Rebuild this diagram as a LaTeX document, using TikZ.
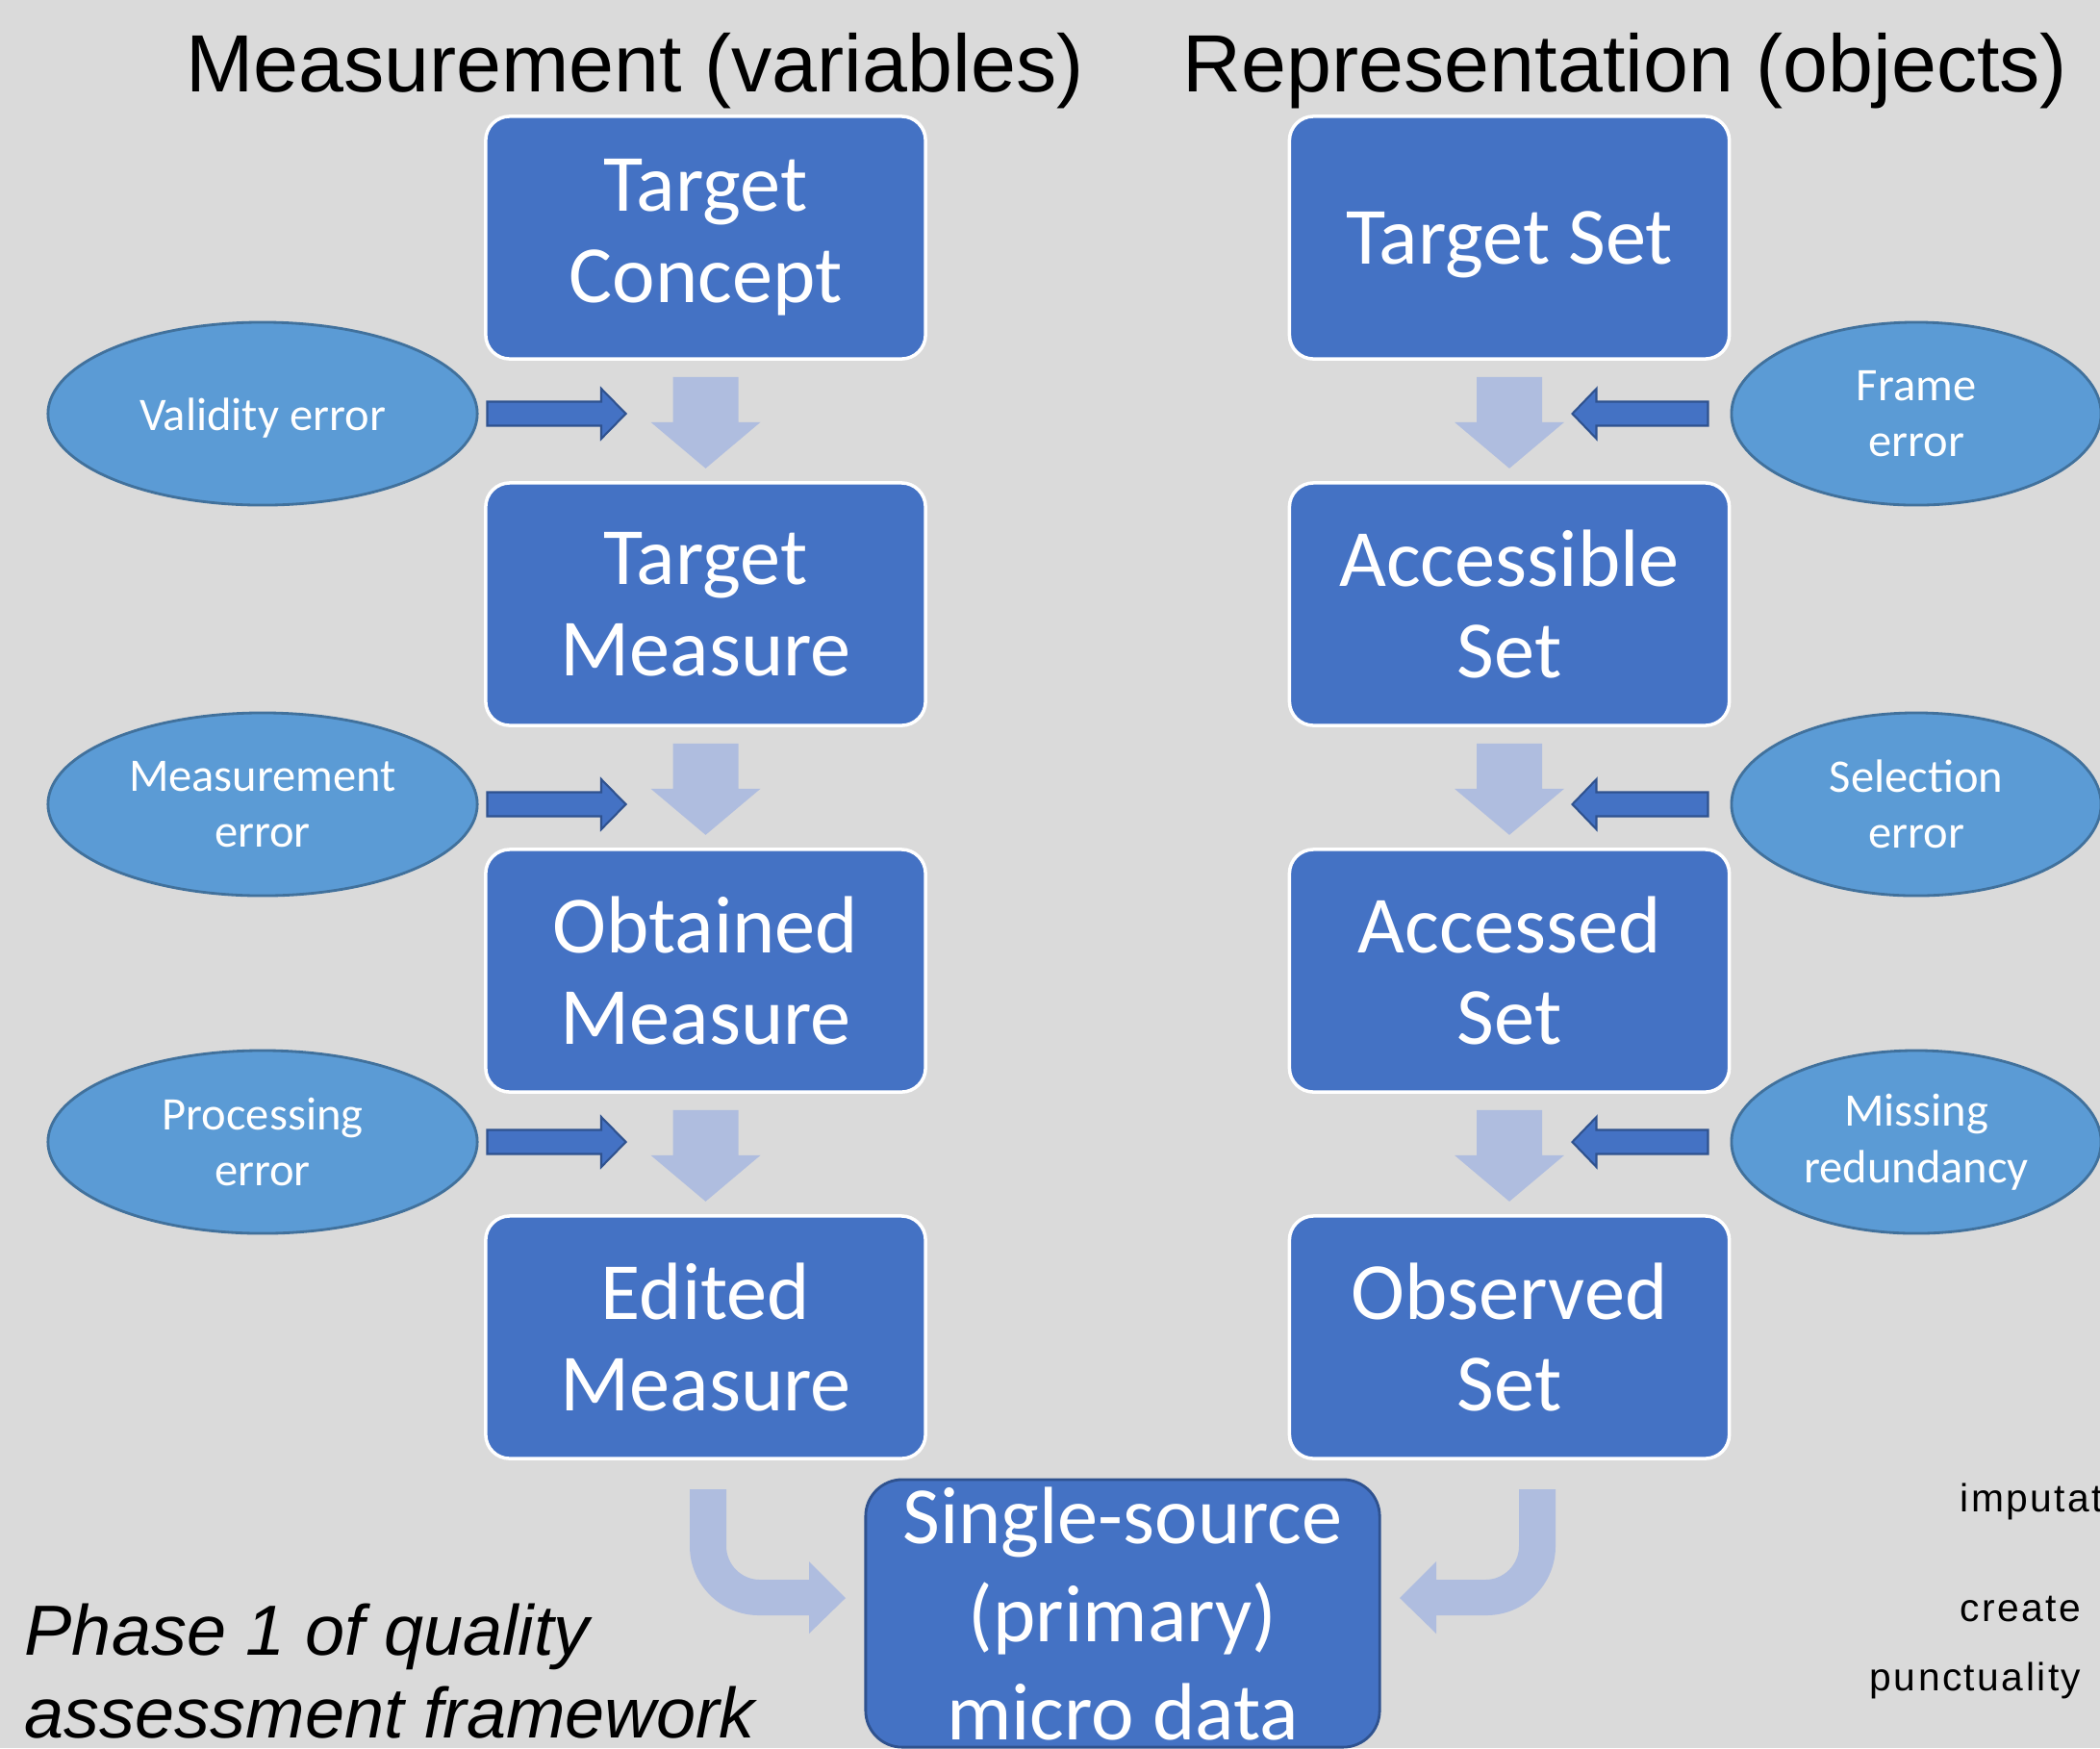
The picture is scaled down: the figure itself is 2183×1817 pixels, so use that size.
\documentclass[tikz,border=0pt]{standalone}
\usepackage{fontspec}
\setmainfont{Carlito}
\newfontfamily\arialfont{Liberation Sans}
\newfontfamily\spacedfont[LetterSpace=6]{Liberation Sans}
\usetikzlibrary{shapes.geometric,calc}

\definecolor{bgcol}{RGB}{218,218,218}
\definecolor{boxblue}{RGB}{68,114,196}
\definecolor{boxedge}{RGB}{47,82,143}
\definecolor{ovalfill}{RGB}{91,155,213}
\definecolor{ovaledge}{RGB}{65,113,156}
\definecolor{flowcol}{RGB}{175,189,223}

\tikzset{
  stagebox/.style={rectangle, rounded corners=0.25cm, fill=boxblue, draw=white,
    line width=1pt, minimum width=4.57cm, minimum height=2.52cm, inner sep=0pt,
    align=center, text=white, font={\fontsize{24}{26.9}\selectfont},
    execute at begin node={\rule{0pt}{19.5pt}}},
  resultbox/.style={rectangle, rounded corners=0.38cm, fill=boxblue, draw=boxedge,
    line width=0.8pt, minimum width=5.34cm, minimum height=2.78cm, inner sep=0pt,
    align=center, text=white, font={\fontsize{24}{29}\selectfont}},
  erroroval/.style={ellipse, fill=ovalfill, draw=ovaledge, line width=0.8pt,
    minimum height=1.90cm, inner sep=0pt, align=center, text=white,
    font={\fontsize{13.8}{16.6}\selectfont},
    execute at begin node={\rule{0pt}{12pt}}},
  leftoval/.style={erroroval, minimum width=4.46cm},
  rightoval/.style={erroroval, minimum width=3.84cm},
  headtitle/.style={anchor=base, inner sep=0pt, font={\arialfont\fontsize{24}{28}\selectfont}},
  sidenote/.style={anchor=base west, inner sep=0pt, font={\spacedfont\fontsize{11.6}{14}\selectfont}},
  errarrow/.style={fill=boxblue, draw=boxedge, line width=0.6pt, line join=miter},
  flowarrow/.style={fill=flowcol},
}

\begin{document}
\begin{tikzpicture}[x=0.01cm,y=-0.01cm]
  \fill[bgcol] (0,0) rectangle (2183,1817);
  \useasboundingbox (0,0) rectangle (2183,1817);

  % column headings
  \node[headtitle] (meas) at (660,95) {Measurement (variables)};
  \node[headtitle] (repr) at (1689.5,95) {Representation (objects)};

  % measurement column
  \node[stagebox] (tc) at (733.5,247)  {Target\\Concept};
  \node[stagebox] (tm) at (733.5,628)  {Target\\Measure};
  \node[stagebox] (om) at (733.5,1009) {Obtained\\Measure};
  \node[stagebox] (em) at (733.5,1390) {Edited\\Measure};

  % representation column
  \node[stagebox] (ts) at (1569,247)  {Target Set};
  \node[stagebox] (as) at (1569,628)  {Accessible\\Set};
  \node[stagebox] (ad) at (1569,1009) {Accessed\\Set};
  \node[stagebox] (os) at (1569,1390) {Observed\\Set};

  % error sources
  \node[leftoval] (ve) at (273,430)  {Validity error};
  \node[leftoval] (me) at (273,836)  {Measurement\\error};
  \node[leftoval] (pe) at (273,1187) {Processing\\error};
  \node[rightoval] (fe) at (1992,430)  {Frame\\error};
  \node[rightoval] (se) at (1992,836)  {Selection\\error};
  \node[rightoval] (mr) at (1992,1187) {Missing\\redundancy};

  % combined output
  \node[resultbox] (ss) at (1167,1677) {Single-source\\(primary)\\micro data};

  % downward flow arrows between stages
  \foreach \n in {tc,tm,om,ts,as,ad}{
    \fill[flowarrow] ($(\n.south)+(-34,17)$) -- ++(68,0) -- ++(0,47) -- ++(23,0)
      -- ++(-57,48) -- ++(-57,-48) -- ++(23,0) -- cycle;
  }

  % error arrows, left side (pointing right)
  \foreach \n in {ve,me,pe}{
    \draw[errarrow] ($(\n.east)+(9,-12.5)$) -- ++(118.5,0) -- ++(0,-13.5) -- ++(25.5,26)
      -- ++(-25.5,26) -- ++(0,-13.5) -- ++(-118.5,0) -- cycle;
  }
  % error arrows, right side (pointing left)
  \foreach \n in {fe,se,mr}{
    \draw[errarrow] ($(\n.west)+(-23,-12.5)$) -- ++(-116,0) -- ++(0,-13.5) -- ++(-25,26)
      -- ++(25,26) -- ++(0,-13.5) -- ++(116,0) -- cycle;
  }

  % bent arrows into the combined output
  \fill[flowarrow] (717,1548) -- (755,1548) -- (755,1607)
    .. controls (755,1626.3) and (770.7,1642) .. (790,1642)
    -- (841,1642) -- (841,1623) -- (879,1661) -- (841,1698) -- (841,1679) -- (789,1679)
    .. controls (749.2,1679) and (717,1646.8) .. (717,1607) -- cycle;
  \fill[flowarrow] (1617,1548) -- (1579,1548) -- (1579,1607)
    .. controls (1579,1626.3) and (1563.3,1642) .. (1544,1642)
    -- (1493,1642) -- (1493,1623) -- (1455,1661) -- (1493,1698) -- (1493,1679) -- (1545,1679)
    .. controls (1584.8,1679) and (1617,1646.8) .. (1617,1607) -- cycle;

  % caption
  \node[anchor=north west, inner sep=0pt, align=left,
        font={\arialfont\itshape\fontsize{21}{24.5}\selectfont}] (phase) at (25,1666)
        {Phase 1 of quality\\assessment framework};

  % side notes
  \node[sidenote] (imp) at (2037,1571) {imputat};
  \node[sidenote] (cre) at (2037,1685) {create};
  \node[sidenote] (pun) at (1943,1757) {punctuality};
\end{tikzpicture}
\end{document}
